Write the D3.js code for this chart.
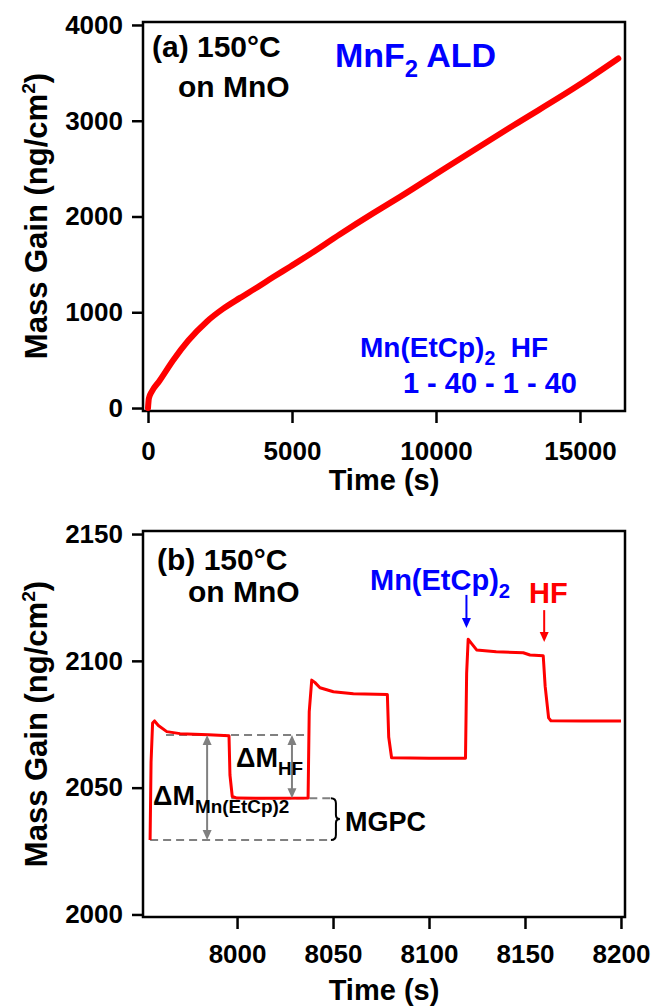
<!DOCTYPE html>
<html>
<head>
<meta charset="utf-8">
<script src="https://cdn.jsdelivr.net/npm/d3@7"></script>
<style>
	body { margin: 0; background: #fff; }
	svg text { font-family: "Liberation Sans", Arial, sans-serif; font-weight: bold; }
</style>
</head>
<body>
<svg id="chart" width="653" height="1008"></svg>
<script>
// (a) whole run, mass gain vs time
const timeA = [0, 30, 128, 400, 880, 1400, 2038, 2600, 3194, 3800, 4351, 4931, 5509, 6667, 7823, 8750, 10372, 12684, 15000, 16330]
const massA = [0, 100, 170, 285, 502, 705, 902, 1035, 1150, 1262, 1368, 1476, 1585, 1815, 2035, 2205, 2515, 2950, 3380, 3650]

// (b) a few cycles, zoomed in
const timeB = [7954.7, 7955.2, 7956.0, 7957.0, 7959.0, 7963.4, 7970.3, 7985.1, 7995.8, 7996.3, 7997.5, 8000, 8020, 8037.0,
	8037.6, 8038.9, 8040.5, 8043.2, 8050.2, 8060.6, 8078.3, 8079.0, 8080.5, 8100, 8119.0, 8119.6, 8120.4, 8122,
	8124.8, 8135, 8149.1, 8152.6, 8159.5, 8160.5, 8162.3, 8163.5, 8180, 8200]
const massB = [2029.4, 2060, 2075.5, 2076.3, 2074.5, 2072.1, 2071.3, 2070.9, 2070.5, 2055, 2046.5, 2045.9, 2045.8, 2045.9,
	2080, 2092.4, 2091.5, 2089.4, 2087.8, 2087.0, 2086.7, 2070, 2061.8, 2061.6, 2061.6, 2095, 2108.5, 2107,
	2104.3, 2103.6, 2103.2, 2102.3, 2102.0, 2090, 2077.5, 2076.4, 2076.3, 2076.3]

// tick labels
const ticksAx = [0, 5000, 10000, 15000]
const ticksAy = [0, 1000, 2000, 3000, 4000]
const ticksBx = [8000, 8050, 8100, 8150, 8200]
const ticksBy = [2000, 2050, 2100, 2150]

// guide levels in (b): after Mn(EtCp)2, after HF, start of cycle
const levelMn = 2070.8
const levelHF = 2045.8
const levelStart = 2029.4

const FONT = '"Liberation Sans", Arial, sans-serif'
const svg = d3.select('#chart')

const pa = { left: 143, top: 22, w: 482, h: 389 }
const pb = { left: 143, top: 531, w: 482, h: 386 }

const xA = d3.scaleLinear().domain([-174, 16563]).range([0, pa.w])
const yA = d3.scaleLinear().domain([-31, 4031]).range([pa.h, 0])
const xB = d3.scaleLinear().domain([7951, 8202.1]).range([0, pb.w])
const yB = d3.scaleLinear().domain([1999, 2151.2]).range([pb.h, 0])

// draws ticks + frame of one panel
function drawAxes(p, x, y, tx, ty, padX) {
	const g = svg.append('g').attr('transform', 'translate(' + p.left + ',' + p.top + ')')

	const ax = g.append('g')
		.attr('transform', 'translate(0,' + p.h + ')')
		.call(d3.axisBottom(x).tickValues(tx).tickFormat(d3.format('d')).tickSize(12).tickPadding(padX).tickSizeOuter(0))
	const ay = g.append('g')
		.call(d3.axisLeft(y).tickValues(ty).tickFormat(d3.format('d')).tickSize(11).tickPadding(9).tickSizeOuter(0))

	for (const a of [ax, ay]) {
		a.select('.domain').remove()
		a.selectAll('line').attr('stroke', '#000').attr('stroke-width', 2.5)
		a.selectAll('text').attr('fill', '#000').attr('font-size', 26).attr('font-family', FONT).attr('font-weight', 'bold')
	}

	g.append('rect')
		.attr('width', p.w).attr('height', p.h)
		.attr('fill', 'none').attr('stroke', '#000').attr('stroke-width', 2.5)
	return g
}

// text with sub/superscript pieces: parts = [[str, 'sub'|'sup'|'']]
function label(g, x, y, parts, size, color, anchor) {
	const t = g.append('text')
		.attr('x', x).attr('y', y)
		.attr('font-size', size).attr('fill', color || '#000')
		.attr('text-anchor', anchor || 'start')
	let shift = 0
	parts.forEach(([s, kind]) => {
		let target = 0, fs = size
		if (kind === 'sub') { target = size * 0.28; fs = size * 0.7 }
		if (kind === 'sup') { target = -size * 0.38; fs = size * 0.62 }
		t.append('tspan').attr('dy', target - shift).attr('font-size', fs).text(s)
		shift = target
	})
	return t
}

function arrowHead(g, x, y, dir, color) {
	// dir: 1 pointing down, -1 pointing up
	g.append('path')
		.attr('d', 'M' + (x - 4.5) + ',' + (y - dir * 10) + 'L' + (x + 4.5) + ',' + (y - dir * 10) + 'L' + x + ',' + y + 'Z')
		.attr('fill', color)
}

function vArrow(g, x, y1, y2, color, both) {
	// y1 top, y2 bottom (tip)
	g.append('line')
		.attr('x1', x).attr('x2', x)
		.attr('y1', both ? y1 + 8 : y1).attr('y2', y2 - 8)
		.attr('stroke', color).attr('stroke-width', 2)
	arrowHead(g, x, y2, 1, color)
	if (both) arrowHead(g, x, y1, -1, color)
}

// ---------------- panel (a)
const gA = drawAxes(pa, xA, yA, ticksAx, ticksAy, 19)
const dataA = timeA.map((t, i) => ({ t: t, m: massA[i] }))
gA.append('path')
	.datum(dataA)
	.attr('fill', 'none')
	.attr('stroke', '#ff0000')
	.attr('stroke-width', 6)
	.attr('stroke-linecap', 'round')
	.attr('stroke-linejoin', 'round')
	.attr('d', d3.line().curve(d3.curveMonotoneX).x(d => xA(d.t)).y(d => yA(d.m)))

label(gA, 9, 35, [['(a) 150°C', '']], 30)
label(gA, 35, 75, [['on MnO', '']], 30)
label(gA, 192, 45, [['MnF', ''], ['2', 'sub'], [' ALD', '']], 34, '#0000ff')
label(gA, 217, 335, [['Mn(EtCp)', ''], ['2', 'sub'], ['\u00a0\u00a0HF', '']], 28, '#0000ff')
label(gA, 434, 371, [['1 - 40 - 1 - 40', '']], 29, '#0000ff', 'end')

// axis titles (a)
label(svg, 384, 490, [['Time (s)', '']], 29, '#000', 'middle')
label(svg.append('g').attr('transform', 'translate(47,216) rotate(-90)'), 0, 0,
	[['Mass Gain (ng/cm', ''], ['2', 'sup'], [')', '']], 31, '#000', 'middle')

// ---------------- panel (b)
const gB = drawAxes(pb, xB, yB, ticksBx, ticksBy, 16)

// dashed guide levels
const guides = [
	{ v: levelMn, t0: 7963, t1: 8035.5 },
	{ v: levelHF, t0: 7997, t1: 8049.5 },
	{ v: levelStart, t0: 7954.7, t1: 8048.5 }
]
gB.selectAll('.guide')
	.data(guides)
	.enter().append('line')
	.attr('x1', d => xB(d.t0)).attr('x2', d => xB(d.t1))
	.attr('y1', d => yB(d.v)).attr('y2', d => yB(d.v))
	.attr('stroke', '#808080').attr('stroke-width', 2).attr('stroke-dasharray', '8,5')

const dataB = timeB.map((t, i) => ({ t: t, m: massB[i] }))
gB.append('path')
	.datum(dataB)
	.attr('fill', 'none')
	.attr('stroke', '#ff0000')
	.attr('stroke-width', 3)
	.attr('stroke-linejoin', 'round')
	.attr('d', d3.line().x(d => xB(d.t)).y(d => yB(d.m)))

// delta M arrows
vArrow(gB, xB(7984.4), yB(levelMn), yB(levelStart), '#808080', true)
vArrow(gB, xB(8028.6), yB(levelMn), yB(levelHF), '#808080', true)

// MGPC brace
const bx = xB(8051.5), bt = yB(levelHF), bb = yB(levelStart), bm = (bt + bb) / 2
gB.append('path')
	.attr('d', 'M' + (bx - 5) + ',' + bt + 'Q' + bx + ',' + bt + ' ' + bx + ',' + (bt + 5) +
		'L' + bx + ',' + (bm - 4) + 'Q' + bx + ',' + bm + ' ' + (bx + 4) + ',' + bm +
		'Q' + bx + ',' + bm + ' ' + bx + ',' + (bm + 4) +
		'L' + bx + ',' + (bb - 5) + 'Q' + bx + ',' + bb + ' ' + (bx - 5) + ',' + bb)
	.attr('fill', 'none').attr('stroke', '#000').attr('stroke-width', 2)
label(gB, bx + 9, bm + 12, [['MGPC', '']], 27)

label(gB, 93, 236, [['ΔM', ''], ['HF', 'sub']], 27)
label(gB, 10, 274, [['ΔM', ''], ['Mn(EtCp)2', 'sub']], 27)

// precursor arrows
vArrow(gB, xB(8119.5), yB(2126), yB(2113), '#0000ff', false)
vArrow(gB, xB(8160), yB(2120), yB(2107.4), '#ff0000', false)
label(gB, 227, 59, [['Mn(EtCp)', ''], ['2', 'sub']], 29, '#0000ff')
label(gB, 386, 72, [['HF', '']], 29, '#ff0000')

label(gB, 14, 39, [['(b) 150°C', '']], 30)
label(gB, 45, 71, [['on MnO', '']], 30)

// axis titles (b)
label(svg, 384, 1000, [['Time (s)', '']], 29, '#000', 'middle')
label(svg.append('g').attr('transform', 'translate(47,724) rotate(-90)'), 0, 0,
	[['Mass Gain (ng/cm', ''], ['2', 'sup'], [')', '']], 31, '#000', 'middle')
</script>
</body>
</html>
